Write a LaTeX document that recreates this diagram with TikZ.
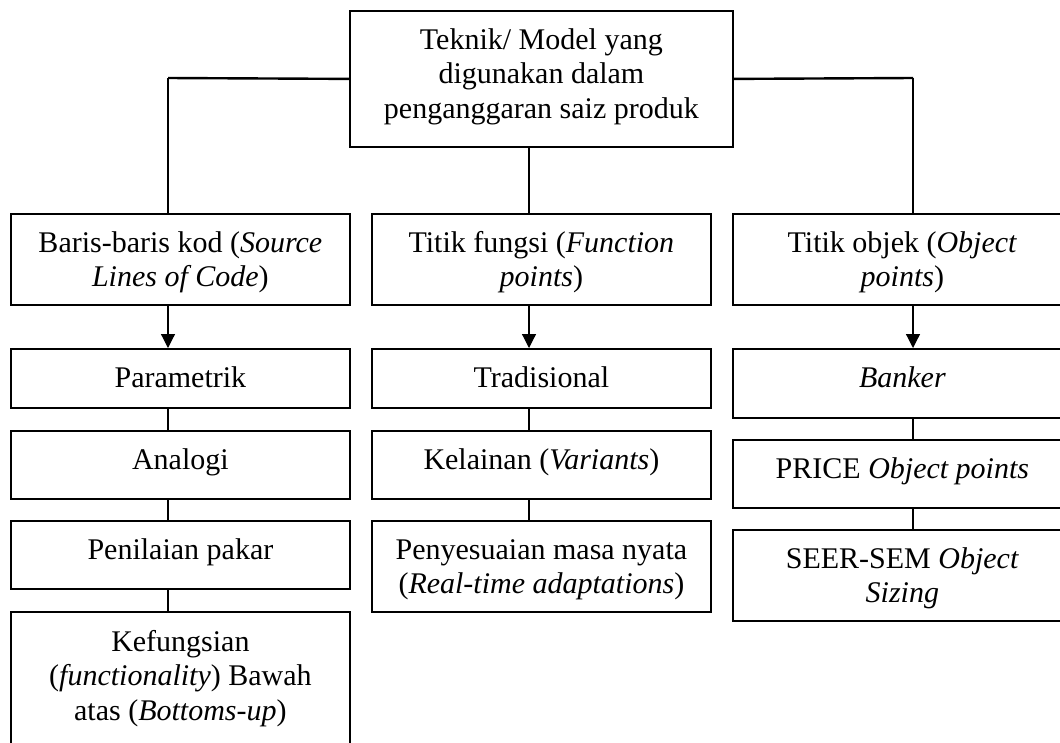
\documentclass[tikz,border=0pt]{standalone}
\usepackage{fontspec}
\setmainfont{Liberation Serif}
\usetikzlibrary{arrows.meta}
\tikzset{
  box/.style={draw, line width=1.8pt, inner sep=0pt, anchor=north west, minimum width=339pt},
  txt/.style={inner sep=0pt, anchor=north, align=center, font=\fontsize{30pt}{34.5pt}\selectfont},
  conn/.style={line width=1.2pt},
  hline/.style={line width=2.4pt},
  arr/.style={line width=1.2pt, -{Triangle[width=14pt,length=14pt]}}
}
\begin{document}
\begin{tikzpicture}[x=1pt,y=-1pt]
\useasboundingbox (0,0) rectangle (1060,742);
\clip (0,0) rectangle (1060,742);
% top
\node[box, minimum width=383pt, minimum height=136pt] (top) at (349,10) {};
\node[txt] (ttop) at ([yshift=-15pt]top.north) {\strut Teknik/ Model yang\\\strut digunakan dalam\\\strut penganggaran saiz produk};
% row 2
\node[box, minimum height=91pt] (a1) at (10,213) {};
\node[box, minimum height=91pt] (b1) at (371,213) {};
\node[box, minimum height=91pt] (c1) at (732,213) {};
\node[txt] (ta1) at ([yshift=-15pt]a1.north) {\strut Baris-baris kod (\textit{Source}\\\strut \textit{Lines of Code})};
\node[txt] (tb1) at ([yshift=-15pt]b1.north) {\strut Titik fungsi (\textit{Function}\\\strut \textit{points})};
\node[txt] (tc1) at ([yshift=-15pt]c1.north) {\strut Titik objek (\textit{Object}\\\strut \textit{points})};
% left column
\node[box, minimum height=59pt] (a2) at (10,348) {};
\node[box, minimum height=68pt] (a3) at (10,430) {};
\node[box, minimum height=68pt] (a4) at (10,520) {};
\node[box, minimum height=160pt] (a5) at (10,611) {};
\node[txt] (ta2) at ([yshift=-15pt]a2.north) {\strut Parametrik};
\node[txt] (ta3) at ([yshift=-15pt]a3.north) {\strut Analogi};
\node[txt] (ta4) at ([yshift=-15pt]a4.north) {\strut Penilaian pakar};
\node[txt] (ta5) at ([yshift=-16pt]a5.north) {\strut Kefungsian\\\strut (\textit{functionality}) Bawah\\\strut atas (\textit{Bottoms-up})};
% middle column
\node[box, minimum height=59pt] (b2) at (371,348) {};
\node[box, minimum height=68pt] (b3) at (371,430) {};
\node[box, minimum height=91pt] (b4) at (371,520) {};
\node[txt] (tb2) at ([yshift=-15pt]b2.north) {\strut Tradisional};
\node[txt] (tb3) at ([yshift=-15pt]b3.north) {\strut Kelainan (\textit{Variants})};
\node[txt] (tb4) at ([yshift=-15pt]b4.north) {\strut Penyesuaian masa nyata\\\strut (\textit{Real-time adaptations})};
% right column
\node[box, minimum height=69pt] (c2) at (732,348) {};
\node[box, minimum height=68pt] (c3) at (732,439) {};
\node[box, minimum height=91pt] (c4) at (732,529) {};
\node[txt] (tc2) at ([yshift=-15pt]c2.north) {\strut \textit{Banker}};
\node[txt] (tc3) at ([yshift=-15pt]c3.north) {\strut PRICE \textit{Object points}};
\node[txt] (tc4) at ([yshift=-15pt]c4.north) {\strut SEER-SEM \textit{Object}\\\strut \textit{Sizing}};
% connector coordinates
\coordinate (xl) at (168,78);
\coordinate (xm) at (529,146);
\coordinate (xr) at (913,78);
% top connectors
\draw[hline] (top.west) -- (xl);
\draw[hline] (top.east) -- (xr);
\draw[conn] (xl) -- (xl |- a1.north);
\draw[conn] (xr) -- (xr |- c1.north);
\draw[conn] (xm |- top.south) -- (xm |- b1.north);
% arrows
\draw[arr] (xl |- a1.south) -- (xl |- a2.north);
\draw[arr] (xm |- b1.south) -- (xm |- b2.north);
\draw[arr] (xr |- c1.south) -- (xr |- c2.north);
% column links
\draw[conn] (xl |- a2.south) -- (xl |- a3.north);
\draw[conn] (xl |- a3.south) -- (xl |- a4.north);
\draw[conn] (xl |- a4.south) -- (xl |- a5.north);
\draw[conn] (xm |- b2.south) -- (xm |- b3.north);
\draw[conn] (xm |- b3.south) -- (xm |- b4.north);
\draw[conn] (xr |- c2.south) -- (xr |- c3.north);
\draw[conn] (xr |- c3.south) -- (xr |- c4.north);
\end{tikzpicture}
\end{document}
